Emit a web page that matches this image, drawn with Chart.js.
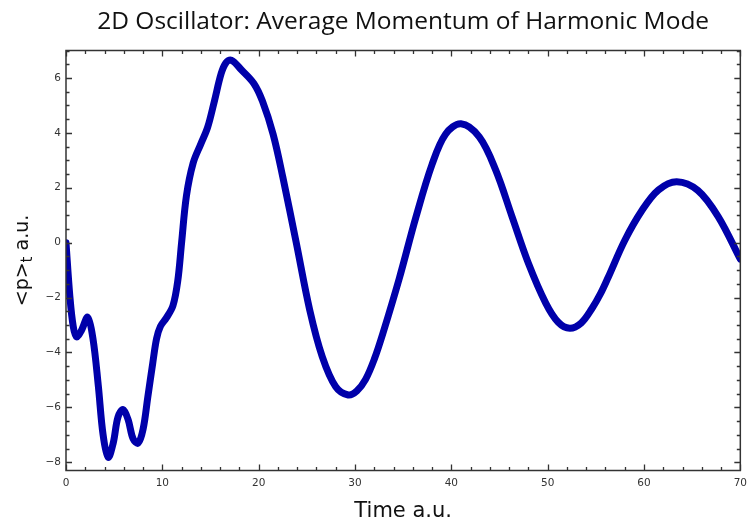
<!DOCTYPE html>
<html>
<head>
<meta charset="utf-8">
<script src="https://cdn.jsdelivr.net/npm/chart.js@4/dist/chart.umd.min.js"></script>
<style>
  html, body { margin: 0; padding: 0; background: #fff; }
  canvas { display: block; }
</style>
</head>
<body>
<canvas id="c" width="753" height="527"></canvas>
<script>
// ---- data ----
const timeValues = [0, 0.4, 0.75, 1.1, 1.6, 2.25, 2.8, 3.35, 3.85, 4.38, 4.9, 5.4, 5.93, 6.45, 6.97, 7.49,
  8.0, 8.5, 9.0, 9.4, 9.8, 10.4, 11.1, 11.6, 12.0, 12.5, 13.2, 14.0, 14.7, 15.4, 16.1, 16.6, 17.15,
  18.2, 19.5, 20.4, 21.5, 22.5, 23.9, 25.3, 26.6, 28.0, 29.3, 30.2, 31.1, 32.0, 32.9, 34.6, 36.3, 38.0, 39.4,
  41.0, 42.9, 44.6, 46.3, 48.0, 49.8, 51.1, 52.3, 53.5, 54.6, 55.5, 56.3, 58.0, 59.8, 61.5, 63.4, 65.6, 67.7, 70];
const momentumValues = [0, -1.95, -3.05, -3.43, -3.2, -2.72, -3.5, -5.2, -7.0, -7.82, -7.3, -6.35, -6.08,
  -6.45, -7.15, -7.3, -6.8, -5.6, -4.4, -3.5, -3.05, -2.75, -2.3, -1.4, 0.0, 1.7, 2.9, 3.6, 4.2,
  5.15, 6.15, 6.55, 6.65, 6.3, 5.8, 5.15, 3.95, 2.4, 0.0, -2.45, -4.15, -5.25, -5.55, -5.4, -4.98,
  -4.25, -3.3, -1.3, 0.9, 2.85, 3.95, 4.33, 3.85, 2.65, 0.95, -0.75, -2.2, -2.9, -3.12, -2.92, -2.4,
  -1.85, -1.25, 0.08, 1.18, 1.92, 2.22, 1.9, 0.95, -0.6];
const xTickStep = 10, xMinorStep = 2;
const yTickStep = 2, yMinorStep = 0.5;
const titleText = '2D Oscillator: Average Momentum of Harmonic Mode';
const xTitleText = 'Time a.u.';
const yTitleParts = ['<p>', 't', ' a.u.'];

const points = timeValues.map((t, i) => ({ x: t, y: momentumValues[i] }));
const frameColor = '#333';

const frameTicks = {
  id: 'frameTicks',
  afterDatasetsDraw(chart) {
    const { ctx, chartArea: a, scales } = chart;
    const xs = scales.x, ys = scales.y;
    ctx.save();
    ctx.strokeStyle = frameColor;
    ctx.lineWidth = 1.3;
    ctx.beginPath();
    const eps = 1e-9;
    const xTick = (v, len) => {
      const px = Math.round(xs.getPixelForValue(v)) + 0.5;
      ctx.moveTo(px, a.bottom); ctx.lineTo(px, a.bottom - len);
      ctx.moveTo(px, a.top); ctx.lineTo(px, a.top + len);
    };
    const yTick = (v, len) => {
      const py = Math.round(ys.getPixelForValue(v)) + 0.5;
      ctx.moveTo(a.left, py); ctx.lineTo(a.left + len, py);
      ctx.moveTo(a.right, py); ctx.lineTo(a.right - len, py);
    };
    for (let v = Math.ceil(xs.min / xMinorStep) * xMinorStep; v <= xs.max + eps; v += xMinorStep) {
      const major = Math.abs(v / xTickStep - Math.round(v / xTickStep)) < 1e-6;
      xTick(v, major ? 6 : 3.5);
    }
    for (let v = Math.ceil(ys.min / yMinorStep) * yMinorStep; v <= ys.max + eps; v += yMinorStep) {
      const major = Math.abs(v / yTickStep - Math.round(v / yTickStep)) < 1e-6;
      yTick(v, major ? 6 : 3.5);
    }
    ctx.stroke();
    ctx.lineWidth = 1.5;
    ctx.strokeRect(a.left, a.top, a.right - a.left, a.bottom - a.top);
    ctx.restore();

    // rotated y-axis title with subscript
    ctx.save();
    const cy = (a.top + a.bottom) / 2;
    const cx = 28;
    const mainFont = '19px "DejaVu Sans"';
    const subFont = '15px "DejaVu Sans"';
    ctx.font = mainFont; const w0 = ctx.measureText(yTitleParts[0]).width;
    const w2 = ctx.measureText(yTitleParts[2]).width;
    ctx.font = subFont; const w1 = ctx.measureText(yTitleParts[1]).width;
    const total = w0 + w1 + w2;
    ctx.translate(cx, cy);
    ctx.rotate(-Math.PI / 2);
    ctx.fillStyle = '#111';
    ctx.textBaseline = 'alphabetic';
    ctx.textAlign = 'left';
    let u = -total / 2;
    ctx.font = mainFont; ctx.fillText(yTitleParts[0], u, 0); u += w0;
    ctx.font = subFont; ctx.fillText(yTitleParts[1], u, 4); u += w1;
    ctx.font = mainFont; ctx.fillText(yTitleParts[2], u, 0);
    ctx.restore();
  }
};

new Chart(document.getElementById('c'), {
  type: 'line',
  data: {
    datasets: [{
      data: points,
      borderColor: '#0000aa',
      borderWidth: 7,
      borderCapStyle: 'round',
      borderJoinStyle: 'round',
      pointRadius: 0,
      fill: false,
      tension: 0.35,
      clip: 0
    }]
  },
  options: {
    responsive: false,
    devicePixelRatio: 1,
    animation: false,
    layout: { padding: { left: 0, right: 9, top: 0, bottom: 0 } },
    plugins: {
      legend: { display: false },
      tooltip: { enabled: false },
      title: {
        display: true,
        text: titleText,
        fullSize: false,
        color: '#111',
        font: { family: '"Open Sans"', size: 24.5, weight: 'normal', lineHeight: 1.2 },
        padding: { top: 7, bottom: 14.1 }
      }
    },
    scales: {
      x: {
        type: 'linear',
        min: 0, max: 70,
        grid: { display: false, drawTicks: false },
        border: { display: false },
        ticks: { stepSize: xTickStep, padding: 6, color: '#333',
                 font: { family: '"DejaVu Sans"', size: 10.5 }, maxRotation: 0 },
        title: { display: true, text: xTitleText, color: '#111',
                 font: { family: '"DejaVu Sans"', size: 21 }, padding: { top: 0, bottom: 3 } },
        afterFit(scale) { scale.height = 56.5; }
      },
      y: {
        type: 'linear',
        min: -8.3, max: 7,
        grid: { display: false, drawTicks: false },
        border: { display: false },
        ticks: { stepSize: yTickStep, includeBounds: false, padding: 5, color: '#333',
                 font: { family: '"DejaVu Sans"', size: 10.5 },
                 callback: (v) => String(v).replace('-', '\u2212') },
        afterFit(scale) { scale.width = 66; }
      }
    }
  },
  plugins: [frameTicks]
});
</script>
</body>
</html>
